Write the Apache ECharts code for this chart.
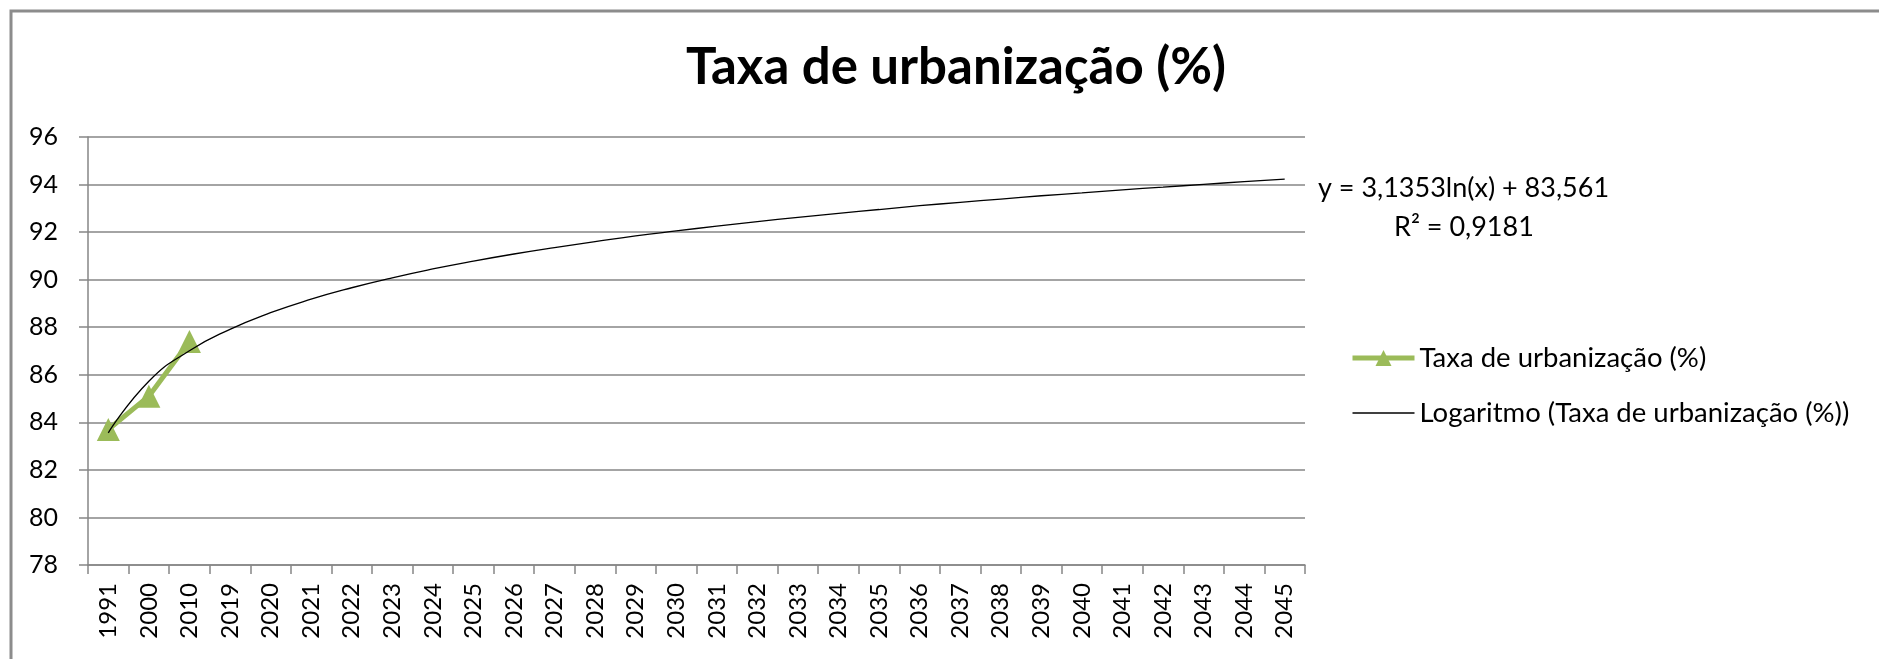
<!DOCTYPE html>
<html>
<head>
<meta charset="utf-8">
<script src="https://cdn.jsdelivr.net/npm/echarts@6/dist/echarts.min.js"></script>
<style>
  html, body { margin: 0; padding: 0; background: #fff; }
  #chart { width: 1879px; height: 659px; }
</style>
</head>
<body>
<div id="chart"></div>
<script>
var chart = echarts.init(document.getElementById('chart'));

// anos no eixo x
var anos = ['1991', '2000', '2010', '2019', '2020', '2021', '2022', '2023', '2024', '2025',
  '2026', '2027', '2028', '2029', '2030', '2031', '2032', '2033', '2034', '2035',
  '2036', '2037', '2038', '2039', '2040', '2041', '2042', '2043', '2044', '2045'];
// taxa observada (só 3 pontos)
var taxa = [83.7, 85.1, 87.4];
// linha de tendência
var tendencia = [83.56, 85.73, 87.01, 87.91, 88.61, 89.18, 89.66, 90.08, 90.45, 90.78,
  91.08, 91.35, 91.60, 91.84, 92.05, 92.25, 92.44, 92.62, 92.79, 92.95,
  93.11, 93.25, 93.39, 93.53, 93.65, 93.78, 93.89, 94.01, 94.12, 94.23];

var fonte = 'Lato';
var cinza = '#868686';
var verde = '#9BBB59';

var option = {
  textStyle: { fontFamily: fonte },
  title: {
    text: 'Taxa de urbanização (%)',
    left: 951, top: 37, textAlign: 'center',
    textStyle: { fontFamily: fonte, fontWeight: 'bold', fontSize: 51, color: '#000' }
  },
  legend: {
    orient: 'vertical', left: 1350, top: 344, itemGap: 27, padding: 0,
    itemWidth: 62, itemHeight: 20,
    textStyle: { fontSize: 27.5, color: '#000' },
    data: [
      { name: 'Taxa de urbanização (%)', lineStyle: { width: 5, color: verde } },
      { name: 'Logaritmo (Taxa de urbanização (%))', icon: 'path://M0,0 H62 V1.5 H0 Z' }
    ]
  },
  grid: { left: 88, right: 574, top: 137, bottom: 94 },
  xAxis: {
    type: 'category', data: anos, boundaryGap: true,
    axisLine: { lineStyle: { color: cinza, width: 1.5 } },
    axisTick: { show: true, length: 9, inside: false, lineStyle: { color: cinza, width: 1.5 } },
    axisLabel: { rotate: 90, margin: 18, fontSize: 24, color: '#000', interval: 0 }
  },
  yAxis: {
    type: 'value', min: 78, max: 96, interval: 2,
    axisLine: { show: true, lineStyle: { color: cinza, width: 1.5 } },
    axisTick: { show: true, length: 9, lineStyle: { color: cinza, width: 1.5 } },
    axisLabel: { margin: 30, fontSize: 25, color: '#000' },
    splitLine: { lineStyle: { color: cinza, width: 1.5 } }
  },
  graphic: [
    {
      type: 'polyline',
      shape: { points: [[11, 700], [11, 11], [1900, 11]] },
      style: { stroke: '#8c8c8c', lineWidth: 3, fill: null }
    },
    {
      type: 'text', x: 1318, y: 188,
      style: { text: 'y = 3,1353ln(x) + 83,561', font: '27px Lato', fill: '#000', verticalAlign: 'middle' }
    },
    {
      type: 'text', x: 1394, y: 227,
      style: { text: 'R² = 0,9181', font: '27px Lato', fill: '#000', verticalAlign: 'middle' }
    }
  ],
  series: [
    {
      name: 'Taxa de urbanização (%)', type: 'line', data: taxa,
      color: verde, symbol: 'triangle', symbolSize: 23,
      lineStyle: { width: 5, color: verde },
      itemStyle: { color: verde }, z: 2
    },
    {
      name: 'Logaritmo (Taxa de urbanização (%))', type: 'line', data: tendencia,
      color: '#000', symbol: 'none', smooth: true,
      lineStyle: { width: 1.3, color: '#000' }, z: 3
    }
  ]
};

chart.setOption(option);
</script>
</body>
</html>
